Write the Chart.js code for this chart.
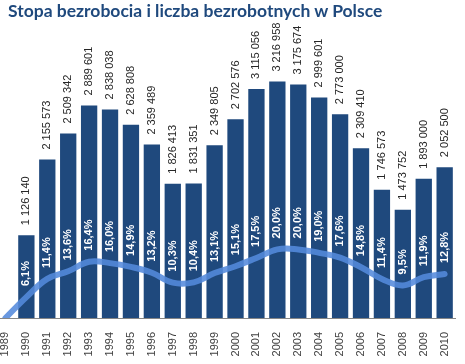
<!DOCTYPE html>
<html>
<head>
<meta charset="utf-8">
<script src="https://cdn.jsdelivr.net/npm/chart.js@4/dist/chart.umd.min.js"></script>
<style>
  html, body { margin:0; padding:0; background:#fff; overflow:hidden; }
  body { width:465px; height:364px; position:relative; }
  #wrap { position:absolute; left:-10px; top:0; width:482px; height:364px; }
  #title { position:absolute; left:8px; top:0px; font-family:Lato, "Liberation Sans", sans-serif; font-weight:bold; font-size:17.5px; color:#1f497d; white-space:nowrap; }
</style>
</head>
<body>
<div id="wrap"><canvas id="c"></canvas></div>
<div id="title">Stopa bezrobocia i liczba bezrobotnych w Polsce</div>
<script>
const years = ["1989","1990","1991","1992","1993","1994","1995","1996","1997","1998","1999","2000","2001","2002","2003","2004","2005","2006","2007","2008","2009","2010"];
const unemployed = [null,1126140,2155573,2509342,2889601,2838038,2628808,2359489,1826413,1831351,2349805,2702576,3115056,3216958,3175674,2999601,2773000,2309410,1746573,1473752,1893000,2052500];
const rate = [0,6.1,11.4,13.6,16.4,16.0,14.9,13.2,10.3,10.4,13.1,15.1,17.5,20.0,20.0,19.0,17.6,14.8,11.4,9.5,11.9,12.8];

function fmtCount(v){ return String(v).replace(/\B(?=(\d{3})+(?!\d))/g, " "); }
function fmtRate(v){ return v.toFixed(1).replace(".", ",") + "%"; }

const labelPlugin = {
  id: "valueLabels",
  afterDatasetsDraw(chart){
    const ctx = chart.ctx;
    const barMeta = chart.getDatasetMeta(0);
    const lineMeta = chart.getDatasetMeta(1);
    ctx.save();
    for (let i = 0; i < years.length; i++){
      if (unemployed[i] != null){
        const b = barMeta.data[i];
        ctx.save();
        ctx.translate(b.x, b.y - 10);
        ctx.rotate(-Math.PI/2);
        ctx.font = "11px 'Liberation Sans', Arial, sans-serif";
        ctx.fillStyle = "#262626";
        ctx.textAlign = "left";
        ctx.textBaseline = "middle";
        ctx.fillText(fmtCount(unemployed[i]), 0, 0);
        ctx.restore();
        const p = lineMeta.data[i];
        ctx.save();
        ctx.translate(b.x, p.y - 11);
        ctx.rotate(-Math.PI/2);
        ctx.font = "bold 11px 'Liberation Sans', Arial, sans-serif";
        ctx.fillStyle = "#ffffff";
        ctx.textAlign = "left";
        ctx.textBaseline = "middle";
        ctx.fillText(fmtRate(rate[i]), 0, 0);
        ctx.restore();
      }
    }
    ctx.restore();
  }
};

new Chart(document.getElementById("c"), {
  type: "bar",
  data: {
    labels: years,
    datasets: [
      {
        type: "bar",
        data: unemployed,
        backgroundColor: "#1f497d",
        barPercentage: 0.78,
        categoryPercentage: 1.0,
        yAxisID: "y",
        order: 2
      },
      {
        type: "line",
        data: rate,
        borderColor: "rgba(84,138,220,0.88)",
        borderWidth: 6,
        pointRadius: 0,
        tension: 0.4,
        borderCapStyle: "round",
        fill: false,
        yAxisID: "y2",
        order: 1
      }
    ]
  },
  options: {
    responsive: true,
    maintainAspectRatio: false,
    animation: false,
    layout: { padding: { left: 5, right: 6, top: 24, bottom: 0 } },
    plugins: { legend: { display: false }, tooltip: { enabled: false }, title: { display: false } },
    scales: {
      x: {
        grid: { display: false, drawTicks: false },
        border: { display: true, color: "#868686", width: 1 },
        ticks: {
          autoSkip: false, minRotation: 90, maxRotation: 90, padding: 14,
          color: "#404040",
          font: { family: "'Liberation Sans', Arial, sans-serif", size: 11 }
        },
        afterFit(s){ s.height = 46; }
      },
      y: { display: false, min: 0, max: 4000000 },
      y2: { display: false, min: 0, max: 85.7 }
    }
  },
  plugins: [labelPlugin]
});
</script>
</body>
</html>
